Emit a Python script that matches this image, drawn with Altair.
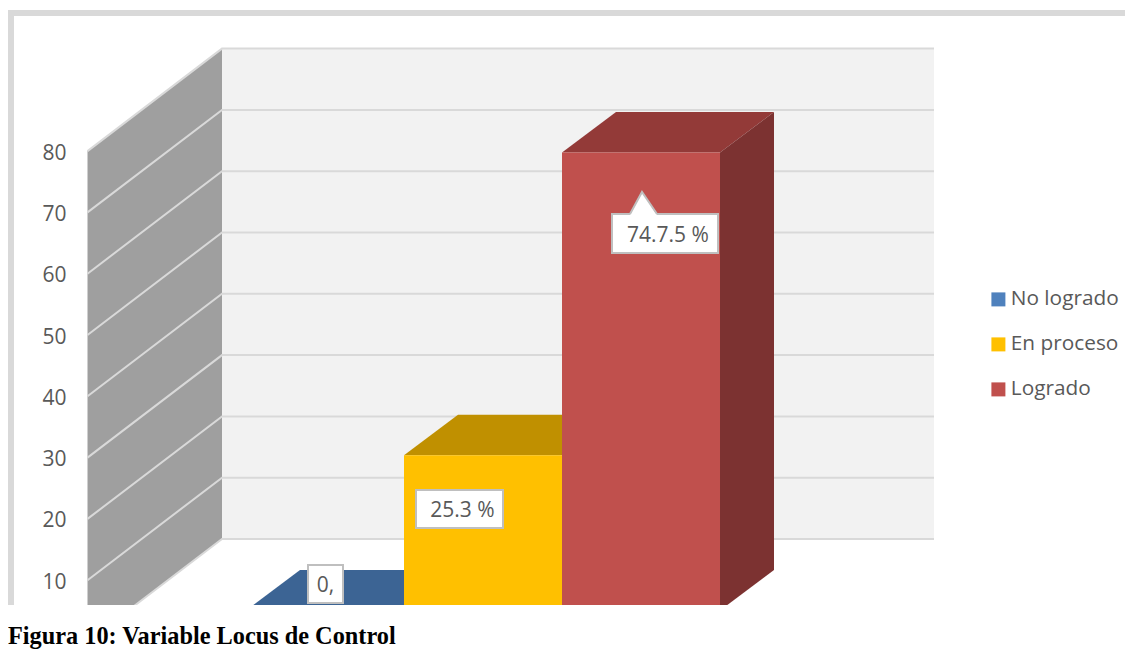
import altair as alt
import pandas as pd

# ---- values ----
categorias = ["No logrado", "En proceso", "Logrado"]
valores = [0.0, 25.3, 74.7]
etiquetas = ["0,", "25.3 %", "74.7.5 %"]
ticks = [10, 20, 30, 40, 50, 60, 70, 80]
niveles = [0, 10, 20, 30, 40, 50, 60, 70, 80]
leyenda = "Figura 10: Variable Locus de Control"
color_frente = ["#4f81bd", "#ffc000", "#c0504d"]
color_techo = ["#3c6494", "#c09000", "#933a38"]
color_lado = ["#325379", "#a37b00", "#7c3231"]

# ---- projection of the 3D frame: page px <-> data units ----
H = 645
W = 1117
PX_X = 158.0
PX_Y = 6.13
fx = lambda px: (px - 246) / PX_X
fy = lambda py: (641.5 - py) / PX_Y

X_DOM = [fx(8), fx(8 + W)]
Y_DOM = [fy(8 + H), fy(8)]
eje_y = alt.Axis(values=ticks, domain=False, ticks=False, grid=False, offset=-62, labelPadding=4,
                 labelOffset=2, labelFontSize=21, labelColor="#595959", labelFont="Open Sans",
                 labelFlush=False, labelOverlap=False, title=None)
x_q = lambda f: alt.X(f, type="quantitative", scale=alt.Scale(domain=X_DOM, nice=False, zero=False), axis=None, title=None)
y_q = lambda f: alt.Y(f, type="quantitative", scale=alt.Scale(domain=Y_DOM, nice=False, zero=False), axis=eje_y, title=None)

WALL_X0, WALL_X1, WALL_X2 = fx(87.5), fx(222), fx(934)
WALL_DY = 102.5 / PX_Y
BASE = 5.07               # bar front plane lifted above the wall's front edge
DEPTH_X = 54 / PX_X
DEPTH_Y = 40.5 / PX_Y

# ---- layers ----
back = pd.DataFrame({"x": [WALL_X1], "x2": [WALL_X2], "y": [WALL_DY], "y2": [WALL_DY + 80]})
l_back = alt.Chart(back).mark_rect(color="#f2f2f2").encode(x=x_q("x"), x2="x2", y=y_q("y"), y2="y2")

wall = pd.DataFrame({"x": [WALL_X0, WALL_X1], "y": [0, WALL_DY], "y2": [80, 80 + WALL_DY]})
l_wall = alt.Chart(wall).mark_area(color="#9f9f9f", orient="vertical").encode(x=x_q("x"), y=y_q("y"), y2="y2")

rows = []
for n in niveles:
    rows += [
        {"n": n, "o": 0, "x": WALL_X0, "y": n},
        {"n": n, "o": 1, "x": WALL_X1, "y": n + WALL_DY},
        {"n": n, "o": 2, "x": WALL_X2, "y": n + WALL_DY},
    ]
l_grid = alt.Chart(pd.DataFrame(rows)).mark_line(color="#d9d9d9", strokeWidth=2).encode(
    x=x_q("x"), y=y_q("y"), detail="n:N", order="o:Q")

layers = [l_back, l_wall, l_grid]

for i, (cat, v) in enumerate(zip(categorias, valores)):
    top = BASE + v
    techo = pd.DataFrame({"x": [i, i + DEPTH_X], "x2": [i + 1, i + 1 + DEPTH_X], "y": [top, top + DEPTH_Y]})
    lado = pd.DataFrame({"x": [i + 1, i + 1 + DEPTH_X], "y": [BASE, BASE + DEPTH_Y], "y2": [top, top + DEPTH_Y]})
    layers.append(alt.Chart(techo).mark_area(color=color_techo[i], orient="horizontal").encode(
        x=x_q("x"), x2="x2", y=y_q("y")))
    layers.append(alt.Chart(lado).mark_area(color=color_lado[i], orient="vertical").encode(
        x=x_q("x"), y=y_q("y"), y2="y2"))

frente = pd.DataFrame({"cat": categorias, "x": [0, 1, 2], "x2": [1, 2, 3],
                       "y": [BASE] * 3, "y2": [BASE + v for v in valores]})
l_front = alt.Chart(frente).mark_rect().encode(
    x=x_q("x"), x2="x2", y=y_q("y"), y2="y2",
    color=alt.Color("cat:N", scale=alt.Scale(domain=categorias, range=color_frente), title=None,
                    legend=alt.Legend(orient="none", legendX=980, legendY=281, symbolType="square",
                                      symbolSize=196, symbolStrokeWidth=0, labelFontSize=20.8,
                                      labelFont="Open Sans", labelColor="#595959", labelOffset=2,
                                      rowPadding=23, padding=0, labelLimit=200)))
layers.append(l_front)

mask = pd.DataFrame({"x": [X_DOM[0]], "x2": [X_DOM[1]], "y": [Y_DOM[0]], "y2": [fy(605)]})
layers.append(alt.Chart(mask).mark_rect(color="white").encode(x=x_q("x"), x2="x2", y=y_q("y"), y2="y2"))
marco = pd.DataFrame({"x": [fx(8), fx(8)], "x2": [X_DOM[1], fx(14)], "y": [fy(16), fy(605)], "y2": [fy(10), fy(16)]})
layers.append(alt.Chart(marco).mark_rect(color="#d9d9d9").encode(x=x_q("x"), x2="x2", y=y_q("y"), y2="y2"))

cajas = pd.DataFrame({
    "t": etiquetas,
    "x": [fx(308), fx(416), fx(612)], "x2": [fx(343), fx(503), fx(718)],
    "y": [fy(603), fy(528), fy(253)], "y2": [fy(565), fy(490), fy(214)],
    "tx": [fx(325.5), fx(462.5), fx(668)], "ty": [fy(586), fy(511), fy(236)],
})
layers.append(alt.Chart(cajas).mark_rect(fill="white", stroke="#bfbfbf", strokeWidth=2).encode(
    x=x_q("x"), x2="x2", y=y_q("y"), y2="y2"))
pico = pd.DataFrame({"x": [fx(630), fx(642)], "x2": [fx(657), fx(642)], "y": [fy(215), fy(192)]})
layers.append(alt.Chart(pico).mark_area(color="white", orient="horizontal").encode(x=x_q("x"), x2="x2", y=y_q("y")))
pico_l = pd.DataFrame({"o": [0, 1, 2], "x": [fx(630), fx(642), fx(657)], "y": [fy(214), fy(192), fy(214)]})
layers.append(alt.Chart(pico_l).mark_line(color="#bfbfbf", strokeWidth=2).encode(x=x_q("x"), y=y_q("y"), order="o:Q"))
layers.append(alt.Chart(cajas).mark_text(fontSize=21, font="Open Sans", color="#595959", align="center", baseline="middle").encode(
    x=x_q("tx"), y=y_q("ty"), text="t:N"))

cap = pd.DataFrame({"t": [leyenda], "x": [fx(8)], "y": [fy(637)]})
layers.append(alt.Chart(cap).mark_text(fontSize=24.3, font="Liberation Serif", fontWeight="bold", color="black",
                                       align="left", baseline="middle").encode(x=x_q("x"), y=y_q("y"), text="t:N"))

chart = alt.layer(*layers).properties(
    width=W, height=H, padding=0, autosize=alt.AutoSizeParams(type="none"), background="white"
).configure_view(stroke=None)

chart.save("out.html", embed_options={"renderer": "svg", "actions": False})
